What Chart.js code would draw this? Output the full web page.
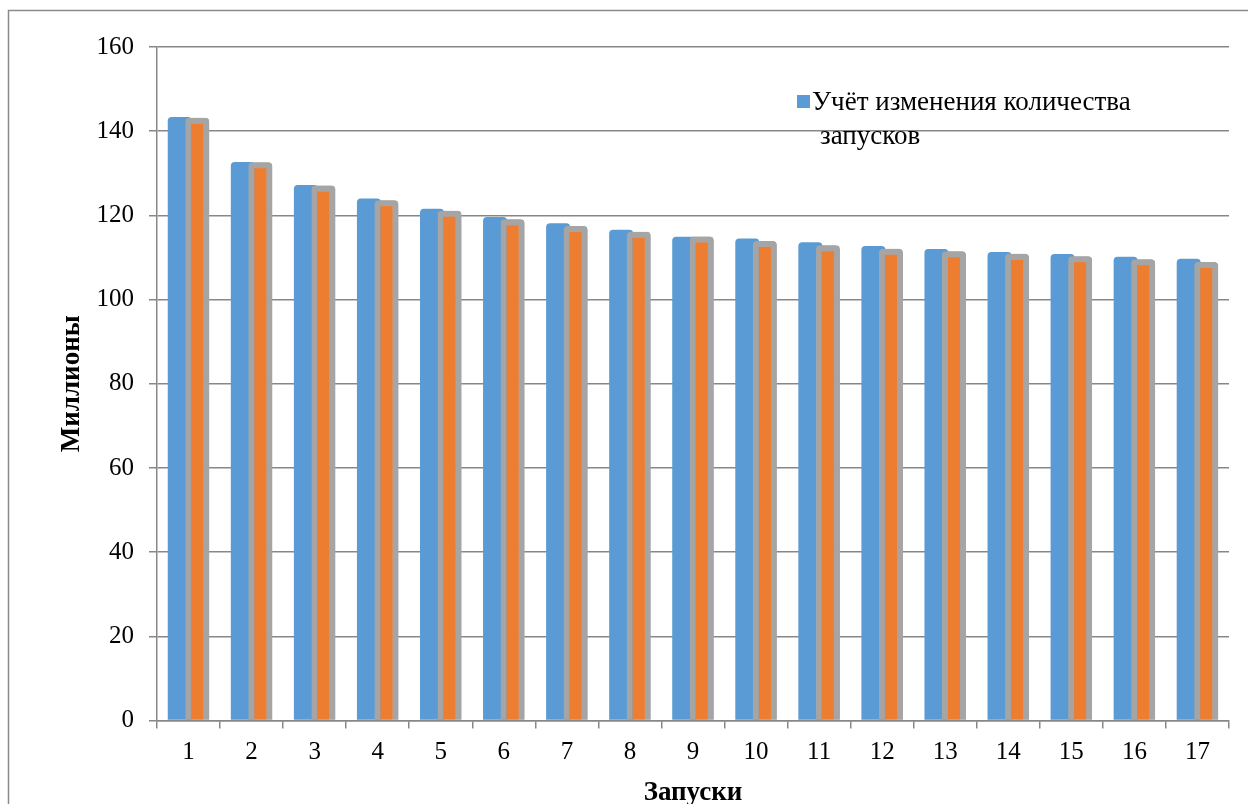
<!DOCTYPE html>
<html>
<head>
<meta charset="utf-8">
<script src="https://cdn.jsdelivr.net/npm/chart.js@4"></script>
<style>
  html, body { margin: 0; padding: 0; background: #fff; }
  #wrap { width: 1248px; height: 804px; position: relative; }
</style>
</head>
<body>
<div id="wrap"><canvas id="c" width="1248" height="804"></canvas></div>
<script>
// Run numbers
const launches = ['1','2','3','4','5','6','7','8','9','10','11','12','13','14','15','16','17'];

// Cost accounting for the change in the number of launches (millions)
const withLaunchChange = [143.4, 132.7, 127.2, 124.0, 121.6, 119.6, 118.1, 116.6, 114.9, 114.5, 113.6, 112.7, 112.0, 111.3, 110.8, 110.2, 109.7];

// Companion series drawn beside it
const companion = [143.2, 132.6, 127.1, 123.6, 121.1, 119.1, 117.5, 116.1, 115.0, 113.9, 112.9, 112.1, 111.5, 110.9, 110.3, 109.6, 108.9];

const yTicks = { min: 0, max: 160, step: 20 };

const legendLines = ['Учёт изменения количества', 'запусков'];
const yTitle = 'Миллионы';
const xTitle = 'Запуски';

const FONT = '"Liberation Serif", "Times New Roman", serif';
const GRID = '#878787';

// outer frame of the chart area
const framePlugin = {
  id: 'frame',
  beforeDraw(chart) {
    const ctx = chart.ctx;
    ctx.save();
    ctx.fillStyle = '#fff';
    ctx.fillRect(0, 0, chart.width, chart.height);
    ctx.strokeStyle = '#8a8a8a';
    ctx.lineWidth = 1.5;
    ctx.strokeRect(8.5, 10.5, chart.width + 20, chart.height + 20);
    ctx.restore();
  }
};

// the second series sits partly over the first one, so draw it again on top
const overlapPlugin = {
  id: 'overlap',
  afterDatasetsDraw(chart) {
    const meta = chart.getDatasetMeta(1);
    chart.ctx.save();
    meta.data.forEach(el => el.draw(chart.ctx));
    chart.ctx.restore();
  }
};

// legend with wrapped text, for the first dataset only
const wrapLegend = {
  id: 'wrapLegend',
  afterDraw(chart) {
    const ctx = chart.ctx;
    const ds = chart.data.datasets[0];
    ctx.save();
    ctx.fillStyle = ds.backgroundColor;
    ctx.fillRect(797, 95, 13, 13);
    ctx.fillStyle = '#000';
    ctx.font = '27px ' + FONT;
    ctx.textBaseline = 'middle';
    ctx.textAlign = 'left';
    ctx.fillText(legendLines[0], 812, 103);
    ctx.fillText(legendLines[1], 820, 137);
    ctx.restore();
  }
};

new Chart(document.getElementById('c'), {
  type: 'bar',
  data: {
    labels: launches,
    datasets: [
      {
        label: legendLines.join(' '),
        data: withLaunchChange,
        backgroundColor: '#5B9BD5',
        borderWidth: 0,
        borderRadius: { topLeft: 4, topRight: 4 },
        categoryPercentage: 0.556,
        barPercentage: 1.37
      },
      {
        label: 'companion',
        data: companion,
        backgroundColor: '#ED7D31',
        borderColor: '#A5A5A5',
        borderWidth: { top: 6, left: 6, right: 6, bottom: 0 },
        borderSkipped: 'start',
        borderRadius: { topLeft: 4, topRight: 4 },
        categoryPercentage: 0.556,
        barPercentage: 1.37
      }
    ]
  },
  options: {
    responsive: false,
    animation: false,
    devicePixelRatio: 1,
    layout: { padding: { left: 0, top: 47, right: 19, bottom: 0 } },
    plugins: {
      legend: { display: false },
      tooltip: { enabled: false }
    },
    scales: {
      x: {
        offset: true,
        grid: {
          display: true,
          offset: true,
          drawOnChartArea: false,
          drawTicks: true,
          tickLength: 8,
          color: GRID,
          lineWidth: 1.5
        },
        border: { display: true, color: GRID, width: 1.5 },
        ticks: {
          color: '#000',
          font: { family: FONT, size: 25 },
          padding: 9,
          maxRotation: 0,
          autoSkip: false
        },
        title: {
          display: true,
          text: xTitle,
          color: '#000',
          font: { family: FONT, size: 27, weight: 'bold' },
          padding: { top: 0, bottom: -5 }
        },
        afterFit(scale) { scale.height = 804 - 720.5; }
      },
      y: {
        min: yTicks.min,
        max: yTicks.max,
        grid: {
          color: GRID,
          lineWidth: 1.5,
          drawTicks: true,
          tickLength: 8
        },
        border: { display: true, color: GRID, width: 1.5 },
        ticks: {
          stepSize: yTicks.step,
          color: '#000',
          font: { family: FONT, size: 25 },
          padding: 15
        },
        title: {
          display: true,
          text: yTitle,
          color: '#000',
          font: { family: FONT, size: 27, weight: 'bold' },
          padding: { top: 56, bottom: 0 }
        },
        afterFit(scale) { scale.width = 157; }
      }
    }
  },
  plugins: [framePlugin, overlapPlugin, wrapLegend]
});
</script>
</body>
</html>
